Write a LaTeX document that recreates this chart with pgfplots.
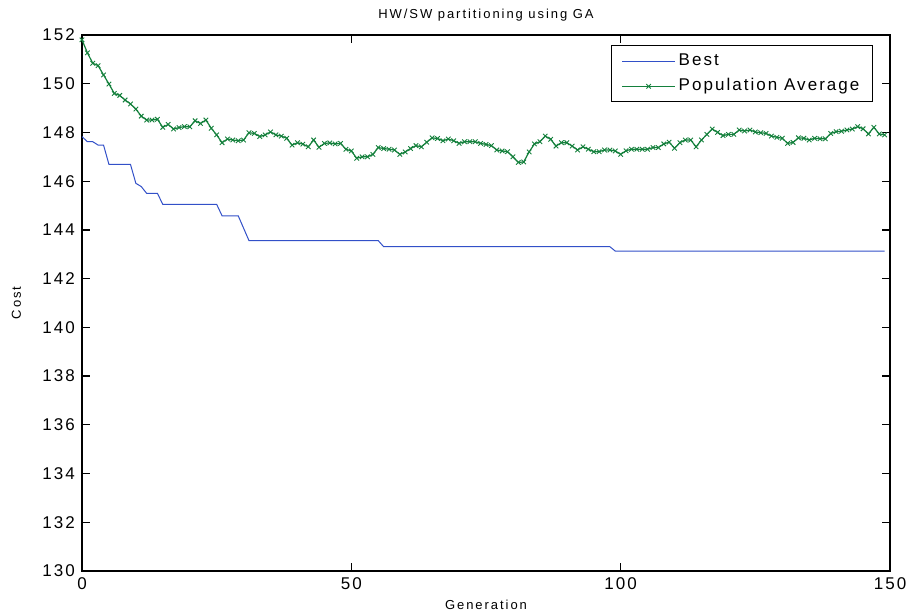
\documentclass[border=0pt]{standalone}
\usepackage{fontspec}
\setmainfont{Liberation Sans}[LetterSpace=12]
\newfontfamily\smallfont{Liberation Sans}[LetterSpace=15]
\usepackage{pgfplots}
\pgfplotsset{compat=1.18}
\definecolor{mblue}{RGB}{50,80,200}
\definecolor{mgreen}{RGB}{20,128,60}
\begin{document}
\begin{tikzpicture}
\begin{axis}[
  scale only axis, width=404pt, height=268pt,
  xmin=0, xmax=150, ymin=130, ymax=152,
  xtick={0,50,100,150}, ytick={130,132,...,152},
  tick align=inside, major tick length=4pt,
  axis line style={line width=0.7pt},
  every tick/.style={black, line width=0.6pt},
  tick label style={font=\fontsize{8.5}{10}\selectfont},
  /pgf/number format/assume math mode=true,
  every axis title shift=0pt,
  title={HW/SW partitioning using GA},
  title style={font=\smallfont\fontsize{6.5}{7}\selectfont, at={(axis description cs:0.5,1.0317)}, anchor=base, yshift=0pt},
  xlabel={Generation}, ylabel={Cost},
  xlabel style={font=\smallfont\fontsize{6.5}{7}\selectfont, at={(axis description cs:0.5,-0.072)}, anchor=base},
  ylabel style={font=\smallfont\fontsize{6.5}{7}\selectfont, at={(axis description cs:-0.0755,0.5)}, anchor=base},
  legend style={at={(axis description cs:0.979,0.981)}, anchor=north east, draw=black, line width=0.6pt,
    font=\fontsize{8.5}{10}\selectfont, inner xsep=5pt, inner ysep=2pt,
    nodes={inner sep=1.5pt, text height=6.5pt, text depth=2pt}, row sep=1pt},
  legend cell align=left,
  legend image code/.code={\draw[mark repeat=2,mark phase=2] plot coordinates {(0pt,0pt) (13.25pt,0pt) (26.5pt,0pt)};},
]
\addplot[mblue, line width=0.5pt] coordinates {
(0,147.83) (1,147.62) (2,147.62) (3,147.48) (4,147.48) (5,146.69) (6,146.69) (7,146.69) (8,146.69) (9,146.69)
(10,145.91) (11,145.78) (12,145.50) (13,145.50) (14,145.50) (15,145.05) (16,145.05) (17,145.05) (18,145.05) (19,145.05)
(20,145.05) (21,145.05) (22,145.05) (23,145.05) (24,145.05) (25,145.05) (26,144.58) (27,144.58) (28,144.58) (29,144.58)
(30,144.07) (31,143.56) (32,143.56) (33,143.56) (34,143.56) (35,143.56) (36,143.56) (37,143.56) (38,143.56) (39,143.56)
(40,143.56) (41,143.56) (42,143.56) (43,143.56) (44,143.56) (45,143.56) (46,143.56) (47,143.56) (48,143.56) (49,143.56)
(50,143.56) (51,143.56) (52,143.56) (53,143.56) (54,143.56) (55,143.56) (56,143.31) (57,143.31) (58,143.31) (59,143.31)
(60,143.31) (65,143.31) (70,143.31) (75,143.31) (80,143.31) (85,143.31) (90,143.31) (95,143.31) (98,143.31)
(99,143.13) (100,143.13) (110,143.13) (120,143.13) (130,143.13) (140,143.13) (149,143.13)
};
\addlegendentry{Best}
\addplot[mgreen, line width=0.6pt, mark=x, mark size=1.6pt, mark options={line width=0.45pt}] table[x=g, y=c] {
g c
0 151.80
1 151.27
2 150.84
3 150.74
4 150.36
5 149.99
6 149.60
7 149.52
8 149.33
9 149.17
10 148.96
11 148.67
12 148.51
13 148.51
14 148.54
15 148.21
16 148.33
17 148.14
18 148.20
19 148.24
20 148.23
21 148.48
22 148.37
23 148.51
24 148.17
25 147.90
26 147.58
27 147.73
28 147.69
29 147.66
30 147.69
31 147.99
32 147.96
33 147.83
34 147.90
35 148.02
36 147.90
37 147.85
38 147.76
39 147.48
40 147.58
41 147.52
42 147.41
43 147.69
44 147.39
45 147.55
46 147.57
47 147.53
48 147.55
49 147.31
50 147.24
51 146.94
52 147.00
53 147.00
54 147.10
55 147.38
56 147.34
57 147.31
58 147.28
59 147.10
60 147.20
61 147.34
62 147.46
63 147.41
64 147.60
65 147.78
66 147.75
67 147.66
68 147.73
69 147.66
70 147.55
71 147.62
72 147.62
73 147.62
74 147.55
75 147.51
76 147.46
77 147.28
78 147.24
79 147.21
80 147.00
81 146.77
82 146.79
83 147.20
84 147.53
85 147.62
86 147.85
87 147.72
88 147.44
89 147.58
90 147.58
91 147.44
92 147.28
93 147.41
94 147.31
95 147.21
96 147.21
97 147.28
98 147.28
99 147.24
100 147.10
101 147.25
102 147.31
103 147.31
104 147.31
105 147.31
106 147.38
107 147.38
108 147.53
109 147.60
110 147.35
111 147.58
112 147.69
113 147.69
114 147.41
115 147.69
116 147.92
117 148.14
118 148.00
119 147.87
120 147.92
121 147.92
122 148.10
123 148.06
124 148.10
125 148.02
126 147.99
127 147.96
128 147.85
129 147.80
130 147.76
131 147.55
132 147.59
133 147.78
134 147.76
135 147.69
136 147.76
137 147.74
138 147.74
139 147.96
140 148.03
141 148.05
142 148.10
143 148.14
144 148.24
145 148.15
146 147.94
147 148.21
148 147.94
149 147.90
};
\addlegendentry{Population Average}
\end{axis}
\pgfresetboundingbox
\path ([shift={(-41pt,-21pt)}]current axis.south west) rectangle ([shift={(9.5pt,17.5pt)}]current axis.north east);
\end{tikzpicture}
\end{document}
